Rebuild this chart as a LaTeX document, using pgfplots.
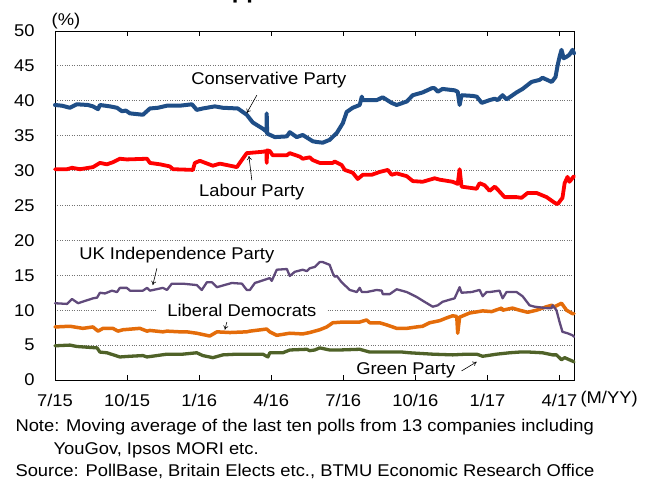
\documentclass[border=0pt]{standalone}
\usepackage{fontspec}
\setmainfont{Liberation Sans}[FakeStretch=1.08]
\usepackage{pgfplots}
\pgfplotsset{compat=1.18}
\usetikzlibrary{arrows.meta}
\definecolor{con}{HTML}{1F4E87}
\definecolor{lab}{HTML}{FF0000}
\definecolor{ukip}{HTML}{604A7B}
\definecolor{ld}{HTML}{E46C0A}
\definecolor{grn}{HTML}{4F6228}
\begin{document}
\begin{tikzpicture}[font=\fontsize{17bp}{20bp}\selectfont]
\useasboundingbox (0,0) rectangle (653bp,479bp);
\node[anchor=base west, font=\bfseries\fontsize{22bp}{26bp}\selectfont] at (198bp,480.5bp) {Support for Political Parties};
\begin{axis}[
  at={(55bp,99bp)}, anchor=south west,
  scale only axis, width=519bp, height=349bp,
  xmin=0, xmax=21.6, ymin=0, ymax=50,
  xtick={0,3,...,21},
  xticklabels={7/15,10/15,1/16,4/16,7/16,10/16,1/17,4/17},
  ytick={0,5,...,50},
  ymajorgrids,
  grid style={dotted, black!55, line width=0.9pt},
  tick align=inside, major tick length=5bp,
  ytick style={draw=none},
  xtick style={black, line width=0.6pt},
  axis line style={black, line width=0.8pt},
  xticklabel style={anchor=base, yshift=-27bp},
  yticklabel style={xshift=-17bp},
  /pgf/number format/assume math mode=true,
  every axis plot/.append style={line join=round, line cap=round, mark=none},
  clip=false,
]
% Green Party
\addplot[grn, line width=3.3bp] coordinates {
(0,4.9)(0.62,5.0)(0.91,4.8)(1.75,4.6)(1.87,4.0)(2.16,3.9)(2.70,3.3)(3.12,3.4)(3.66,3.5)(3.83,3.3)
(4.66,3.7)(5.32,3.7)(5.90,3.9)(6.15,3.5)(6.57,3.2)(6.99,3.6)(7.57,3.7)(8.65,3.7)(8.86,3.3)(8.94,3.9)
(9.48,3.9)(9.77,4.3)(10.48,4.4)(10.60,4.2)(10.81,4.3)(11.02,4.6)(11.43,4.3)(11.85,4.3)(12.68,4.4)(13.10,4.0)
(13.80,4.0)(14.46,4.0)(14.75,3.9)(15.72,3.7)(16.55,3.6)(17.13,3.7)(17.55,3.7)(17.80,3.4)(18.38,3.7)(18.92,3.9)
(19.33,4.0)(19.75,4.0)(20.29,3.9)(20.71,3.6)(20.87,3.6)(21.08,2.9)(21.21,3.2)(21.54,2.7)(21.6,2.6)
};
% Liberal Democrats
\addplot[ld, line width=3.5bp] coordinates {
(0,7.6)(0.62,7.7)(1.16,7.4)(1.58,7.6)(1.79,7.0)(2.00,7.4)(2.41,7.4)(2.62,7.0)(2.83,7.2)(3.53,7.4)
(3.83,7.0)(3.95,7.1)(4.49,6.9)(4.66,7.0)(5.20,6.9)(5.49,6.9)(5.90,6.7)(6.44,6.3)(6.74,6.9)(7.28,6.8)
(7.98,6.9)(8.11,7.0)(8.81,7.3)(8.94,6.9)(9.23,6.4)(9.77,6.7)(10.31,6.6)(10.60,6.8)(10.81,7.0)(11.02,7.2)
(11.31,7.6)(11.56,8.2)(11.98,8.3)(12.68,8.3)(12.97,8.6)(13.10,8.2)(13.51,8.2)(13.80,7.9)(14.22,7.4)(14.64,7.4)
(15.05,7.6)(15.30,7.7)(15.59,8.2)(16.01,8.5)(16.30,8.9)(16.55,9.2)(16.72,9.1)(16.76,6.7)(16.84,9.0)(17.26,9.6)
(17.80,9.9)(18.17,9.8)(18.59,10.3)(18.63,10.0)(19.04,10.3)(19.33,10.0)(19.67,9.7)(20.04,10.0)(20.29,10.3)(20.46,10.5)
(20.67,10.7)(20.79,10.5)(21.08,11.0)(21.29,10.0)(21.54,9.5)(21.6,9.5)
};
% UK Independence Party
\addplot[ukip, line width=2.3bp] coordinates {
(0,11.0)(0.50,10.9)(0.71,11.6)(0.96,11.0)(1.58,11.7)(1.75,11.8)(1.87,12.5)(2.08,12.4)(2.37,12.8)(2.58,12.6)
(2.70,13.2)(2.99,13.2)(3.12,12.8)(3.66,12.8)(3.83,13.2)(3.95,12.8)(4.49,13.2)(4.66,12.9)(4.86,13.8)(5.32,13.8)
(5.90,13.6)(6.11,12.9)(6.32,14.0)(6.53,14.0)(6.74,13.3)(7.36,13.9)(7.78,13.8)(7.98,12.9)(8.11,12.9)(8.32,13.9)
(8.94,14.6)(9.02,14.2)(9.23,15.8)(9.65,15.9)(9.77,14.9)(9.98,15.5)(10.31,15.8)(10.48,15.6)(10.60,16.0)(10.81,16.2)
(11.02,16.9)(11.14,16.9)(11.43,16.5)(11.56,15.3)(11.64,14.8)(11.73,14.9)(11.93,14.0)(12.27,12.9)(12.56,12.6)(12.68,13.2)
(12.77,12.6)(12.97,12.6)(13.39,12.9)(13.60,12.8)(13.64,12.3)(13.93,12.3)(14.22,13.0)(14.64,12.6)(15.05,11.9)(15.38,11.2)
(15.72,10.5)(15.93,10.7)(16.13,11.2)(16.42,11.5)(16.63,11.7)(16.84,13.3)(16.92,12.5)(17.34,12.6)(17.67,12.9)(17.80,12.0)
(17.96,12.6)(18.09,12.6)(18.50,12.8)(18.63,11.7)(18.79,12.6)(19.21,12.6)(19.46,12.0)(19.75,10.7)(19.96,10.5)(20.46,10.3)
(20.67,10.3)(20.71,10.7)(20.87,10.0)(21.00,8.3)(21.12,6.9)(21.33,6.7)(21.54,6.4)(21.6,6.2)
};
% Labour Party
\addplot[lab, line width=3.8bp] coordinates {
(0,30.2)(0.50,30.2)(0.71,30.4)(1.04,30.2)(1.58,30.5)(1.87,31.1)(2.16,30.9)(2.41,31.2)(2.70,31.7)(2.99,31.6)
(3.83,31.7)(3.95,31.1)(4.37,30.9)(4.78,30.6)(4.91,30.2)(5.74,30.1)(5.82,31.1)(6.03,31.4)(6.57,30.7)(6.86,31.0)
(7.57,30.5)(7.69,31.1)(7.98,32.5)(8.65,32.7)(8.80,32.8)(8.81,31.1)(8.83,32.9)(8.94,32.8)(9.06,32.2)(9.65,32.2)
(9.77,32.5)(10.19,32.0)(10.31,31.7)(10.60,31.9)(10.73,31.5)(11.02,31.1)(11.56,31.1)(11.64,31.3)(11.93,30.8)(12.06,30.1)
(12.39,29.7)(12.60,28.8)(12.81,29.4)(13.18,29.4)(13.51,29.8)(13.85,30.1)(14.01,29.4)(14.22,29.6)(14.64,29.2)(14.89,28.5)
(15.30,28.4)(15.80,28.9)(16.01,28.7)(16.55,28.4)(16.76,28.1)(16.84,30.2)(16.92,27.7)(17.55,27.4)(17.67,28.2)(17.88,27.9)
(18.09,27.1)(18.30,27.7)(18.42,27.3)(18.71,26.2)(19.21,26.2)(19.42,26.1)(19.67,26.8)(20.04,26.8)(20.46,26.2)(20.79,25.4)
(20.92,25.2)(21.12,26.1)(21.21,28.2)(21.33,29.1)(21.41,28.4)(21.6,29.2)
};
% Conservative Party
\addplot[con, line width=4bp] coordinates {
(0,39.4)(0.29,39.3)(0.62,39.0)(0.91,39.5)(1.37,39.4)(1.58,39.2)(1.79,38.8)(1.87,39.4)(2.29,39.2)(2.58,39.0)
(2.79,38.5)(2.95,38.6)(3.12,38.2)(3.66,38.0)(3.95,38.9)(4.28,39.0)(4.66,39.3)(5.20,39.3)(5.70,39.5)(5.90,38.7)
(6.15,38.9)(6.65,39.2)(6.99,39.0)(7.61,38.9)(7.98,38.0)(8.23,36.9)(8.65,36.0)(8.80,35.6)(8.81,38.2)(8.83,35.3)
(9.15,34.8)(9.65,34.9)(9.77,35.5)(10.06,34.8)(10.31,35.1)(10.73,34.2)(10.89,34.1)(11.14,34.0)(11.43,34.4)(11.73,35.4)
(11.98,36.8)(12.14,38.4)(12.39,39.0)(12.68,39.4)(12.77,40.6)(12.81,40.1)(13.39,40.1)(13.64,40.5)(14.01,39.7)(14.22,39.4)
(14.64,39.9)(14.89,40.8)(15.30,41.2)(15.68,41.8)(15.80,41.8)(15.93,41.3)(16.13,41.7)(16.63,41.5)(16.76,41.3)(16.84,39.4)
(16.92,40.8)(17.38,40.7)(17.55,40.6)(17.76,39.7)(18.09,40.1)(18.30,40.3)(18.42,40.1)(18.63,40.8)(18.79,40.2)(19.21,41.2)
(19.46,41.7)(19.83,42.7)(20.17,43.0)(20.29,43.3)(20.67,42.7)(20.83,43.4)(20.92,45.1)(21.00,46.3)(21.08,47.3)(21.17,46.1)
(21.29,46.3)(21.41,46.6)(21.54,47.3)(21.6,46.8)
};
% labels and arrows
\node at (axis cs:8.9,43.0) {Conservative Party};
\draw[-{To[length=4bp,width=5bp]}, line width=0.6bp] (axis cs:8.40,40.8) -- (axis cs:7.98,38.25);
\node at (axis cs:8.19,26.9) {Labour Party};
\draw[-{To[length=4bp,width=5bp]}, line width=0.6bp] (axis cs:8.19,28.65) -- (axis cs:8.07,32.1);
\node at (axis cs:5.07,17.9) {UK Independence Party};
\draw[-{To[length=4bp,width=5bp]}, line width=0.6bp] (axis cs:4.24,16.0) -- (axis cs:4.07,13.6);
\node[fill=white, inner xsep=10bp, inner ysep=1bp] at (axis cs:7.78,9.9) {Liberal Democrats};
\draw[-{To[length=4bp,width=5bp]}, line width=0.6bp] (axis cs:7.15,8.3) -- (axis cs:7.07,7.2);
\node at (axis cs:14.6,1.43) {Green Party};
\draw[-{To[length=4bp,width=5bp]}, line width=0.6bp] (axis cs:16.92,1.3) -- (axis cs:17.55,2.6);
\end{axis}
\node at (66bp,458bp) {(\%)};
\node[anchor=base west] at (577bp,75bp) {(M/YY)};
\node[anchor=base west] at (12bp,47bp) {Note: Moving average of the last ten polls from 13 companies including};
\node[anchor=base west] at (50bp,25bp) {YouGov, Ipsos MORI etc.};
\node[anchor=base west] at (12bp,3bp) {Source: PollBase, Britain Elects etc., BTMU Economic Research Office};
\end{tikzpicture}
\end{document}
